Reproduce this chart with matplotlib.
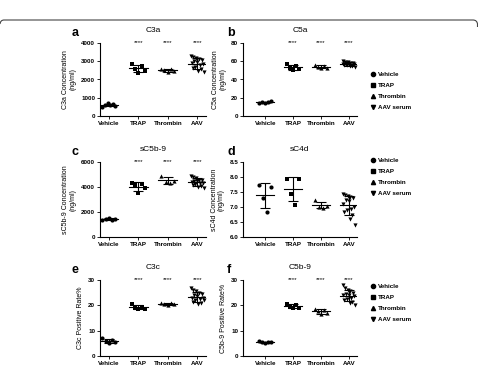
import numpy as np
import matplotlib
matplotlib.use("Agg")
import matplotlib.pyplot as plt
from matplotlib.lines import Line2D
from matplotlib.path import Path
from matplotlib.patches import PathPatch

plt.rcParams['font.family'] = ['Liberation Sans', 'DejaVu Sans']

groups = ["Vehicle", "TRAP", "Thrombin", "AAV"]
legend_names = ["Vehicle", "TRAP", "Thrombin", "AAV serum"]
markers = ["o", "s", "^", "v"]

# panel a - C3a (ng/ml)
c3a_vehicle = [520, 580, 620, 650, 700, 560]
c3a_trap = [2850, 2750, 2600, 2450, 2380]
c3a_thrombin = [2600, 2550, 2500, 2450, 2420]
c3a_aav = [3300, 3250, 3200, 3100, 3050, 3000, 2950, 2900, 2850, 2800, 2700, 2650, 2550, 2450, 2400]

# panel b - C5a (ng/ml)
c5a_vehicle = [14, 15, 15.5, 16, 14.5]
c5a_trap = [57, 55, 53, 51, 50]
c5a_thrombin = [56, 55, 54, 53, 52.5]
c5a_aav = [60, 59.5, 59, 58.5, 58, 57.5, 57, 57, 56.5, 56, 56, 55.5, 55, 54.5, 54]

# panel c - sC5b-9 (ng/ml)
sc5b9_vehicle = [1400, 1380, 1420, 1450, 1520]
sc5b9_trap = [4300, 4250, 4200, 3900, 3500]
sc5b9_thrombin = [4900, 4500, 4400, 4300]
sc5b9_aav = [4900, 4800, 4700, 4600, 4550, 4500, 4450, 4400, 4350, 4300, 4250, 4200, 4100, 4000, 3900]

# panel d - sC4d (ng/ml)
sc4d_vehicle = [7.75, 7.68, 7.3, 6.85]
sc4d_trap = [7.95, 7.92, 7.45, 7.08]
sc4d_thrombin = [7.22, 7.05, 7.0, 6.98]
sc4d_aav = [7.45, 7.4, 7.38, 7.35, 7.3, 7.25, 7.2, 7.1, 7.0, 6.95, 6.9, 6.85, 6.75, 6.6, 6.4]

# panel e - C3c positive rate %
c3c_vehicle = [7.0, 6.5, 6.0, 5.5, 5.0]
c3c_trap = [20.5, 19.5, 19, 18.5, 18.5]
c3c_thrombin = [21, 21, 20.5, 20.5, 20]
c3c_aav = [27, 26, 25.5, 25, 24.5, 24, 23.5, 23, 23, 22.5, 22, 21.5, 21, 20.5, 22]

# panel f - C5b-9 positive rate %
c5b9_vehicle = [5.8, 5.6, 5.5, 5.4, 5.3]
c5b9_trap = [20.5, 20.3, 19.5, 19, 18.8]
c5b9_thrombin = [18.5, 18.2, 17.8, 17, 16.5]
c5b9_aav = [28, 27, 26, 25.5, 25, 24.5, 24, 24, 23.5, 23, 22.5, 22, 21.5, 21, 20]

panels = [
    ("a", "C3a", "C3a Concentration\n(ng/ml)", [c3a_vehicle, c3a_trap, c3a_thrombin, c3a_aav],
     [0, 1000, 2000, 3000, 4000], True),
    ("b", "C5a", "C5a Concentration\n(ng/ml)", [c5a_vehicle, c5a_trap, c5a_thrombin, c5a_aav],
     [0, 20, 40, 60, 80], True),
    ("c", "sC5b-9", "sC5b-9 Concentration\n(ng/ml)", [sc5b9_vehicle, sc5b9_trap, sc5b9_thrombin, sc5b9_aav],
     [0, 2000, 4000, 6000], True),
    ("d", "sC4d", "sC4d Concentration\n(ng/ml)", [sc4d_vehicle, sc4d_trap, sc4d_thrombin, sc4d_aav],
     [6.0, 6.5, 7.0, 7.5, 8.0, 8.5], False),
    ("e", "C3c", "C3c Positive Rate%", [c3c_vehicle, c3c_trap, c3c_thrombin, c3c_aav],
     [0, 10, 20, 30], True),
    ("f", "C5b-9", "C5b-9 Positive Rate%", [c5b9_vehicle, c5b9_trap, c5b9_thrombin, c5b9_aav],
     [0, 10, 20, 30], True),
]

W, H = 478, 369
fig = plt.figure(figsize=(W / 100, H / 100), dpi=100)

# top edge of a rounded frame (pixel coords converted to figure fraction)
frame_px = [(0, 24), (0.5, 20), (4, 20), (473, 20), (477, 20), (477.5, 24), (477.5, 27)]
codes = [Path.MOVETO, Path.CURVE3, Path.CURVE3, Path.LINETO, Path.CURVE3, Path.CURVE3, Path.LINETO]
verts = [(x / W, 1 - y / H) for x, y in frame_px]
fig.patches.append(PathPatch(Path(verts, codes), transform=fig.transFigure, fill=False,
                             edgecolor="#444444", lw=0.8))

# axes boxes in pixels: left, right, xmin, xmax / top, bottom
col_x = [(100, 206, -0.3, 3.3), (243, 357, -0.8, 3.3)]
row_y = [(43, 116), (162, 237), (280, 356)]


def offsets(n):
    if n <= 1:
        return np.zeros(n)
    base = np.linspace(-0.22, 0.22, n)
    order = np.argsort(np.arange(n) % 3)
    return base[order]


for i, (letter, title, ylabel, data, yticks, stars) in enumerate(panels):
    r, c = divmod(i, 2)
    x0, x1, xmin, xmax = col_x[c]
    ytop, ybot = row_y[r]
    ax = fig.add_axes([x0 / W, 1 - ybot / H, (x1 - x0) / W, (ybot - ytop) / H])
    for g, vals in enumerate(data):
        vals = np.array(vals, dtype=float)
        xs = g + offsets(len(vals))
        ax.scatter(xs, vals, marker=markers[g], s=9, color="black", zorder=3, linewidths=0)
        m, sd = vals.mean(), vals.std(ddof=1)
        ax.plot([g - 0.32, g + 0.32], [m, m], color="black", lw=0.8, zorder=4)
        ax.errorbar(g, m, yerr=sd, color="black", lw=0.8, capsize=3.5, capthick=0.8, zorder=4)
    ax.set_xlim(xmin, xmax)
    ax.set_ylim(yticks[0], yticks[-1])
    ax.set_yticks(yticks)
    if yticks[-1] < 10:
        ax.set_yticklabels([f"{t:.1f}" for t in yticks])
    ax.set_xticks(range(4))
    ax.set_xticklabels(groups)
    for s in ["top", "right"]:
        ax.spines[s].set_visible(False)
    for s in ["left", "bottom"]:
        ax.spines[s].set_linewidth(0.8)
    ax.tick_params(labelsize=4.5, length=2, width=0.6, pad=1.5)
    for lbl in ax.get_xticklabels() + ax.get_yticklabels():
        lbl.set_fontweight("bold")
    ax.set_ylabel(ylabel, fontsize=5, labelpad=3, linespacing=1.1)
    ax.set_title(title, fontsize=6, pad=8)
    if stars:
        for g in range(1, 4):
            ax.text(g, yticks[-1], "****", fontsize=4.5, ha="center", va="center", clip_on=False)
    lx = 72 if c == 0 else 227
    fig.text(lx / W, 1 - (ytop - 10) / H, letter, fontsize=9, fontweight="bold", ha="left", va="center")

# legends
handles = [Line2D([], [], marker=mk, color="black", linestyle="none", markersize=3)
           for mk in markers]
for ly in [66, 152, 278]:
    fig.legend(handles, legend_names, loc="upper left", bbox_to_anchor=(364 / W, 1 - ly / H),
               frameon=False, handletextpad=0.4, labelspacing=0.9, handlelength=1.0,
               prop={"weight": "bold", "size": 4.5})

fig.savefig("out.png", dpi=100)
